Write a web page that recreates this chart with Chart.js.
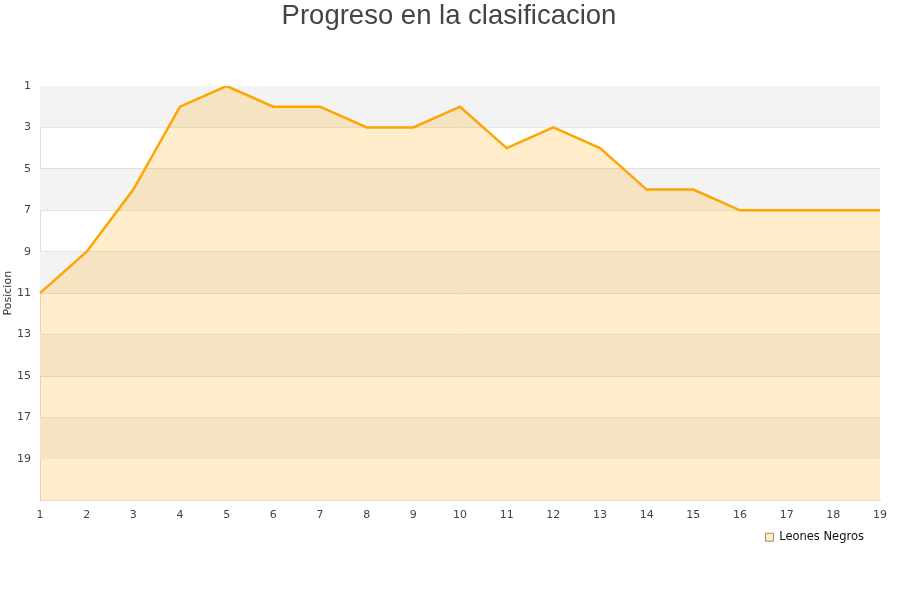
<!DOCTYPE html>
<html>
<head>
<meta charset="utf-8">
<script src="https://cdn.jsdelivr.net/npm/chart.js@4"></script>
<style>
  html, body { margin: 0; padding: 0; background: #fff; }
  #wrap { width: 900px; height: 600px; }
</style>
</head>
<body>
<div id="wrap"><canvas id="grafica" width="900" height="600"></canvas></div>
<script>
// Jornadas y posiciones
const jornadas = ["1","2","3","4","5","6","7","8","9","10","11","12","13","14","15","16","17","18","19"];
const posiciones = [11, 9, 6, 2, 1, 2, 2, 3, 3, 2, 4, 3, 4, 6, 6, 7, 7, 7, 7];
const equipo = "Leones Negros";

// franjas grises alternadas detras del area
const franjas = {
  id: "franjas",
  afterLayout(chart) {
    // la leyenda queda un poco a la izquierda del borde
    chart.legend.right -= 14;
  },
  beforeDatasetsDraw(chart) {
    const { ctx, chartArea, scales } = chart;
    const y = scales.y;
    ctx.save();
    ctx.fillStyle = "#f3f3f3";
    for (let v = 1; v < 21; v += 4) {
      const a = y.getPixelForValue(v);
      const b = y.getPixelForValue(Math.min(v + 2, 21));
      ctx.fillRect(chartArea.left, a, chartArea.right - chartArea.left, b - a);
    }
    ctx.restore();
  }
};

new Chart(document.getElementById("grafica").getContext("2d"), {
  type: "line",
  data: {
    labels: jornadas,
    datasets: [{
      label: equipo,
      data: posiciones,
      borderColor: "#ffa500",
      backgroundColor: "rgba(255,165,0,0.2)",
      borderWidth: 2.5,
      fill: { value: 21 },
      pointRadius: 0,
      tension: 0
    }]
  },
  options: {
    responsive: false,
    animation: false,
    layout: { padding: { left: 2, right: 4, top: 0, bottom: 47 } },
    plugins: {
      title: {
        display: true,
        text: "Progreso en la clasificacion",
        color: "#444",
        font: { family: "Liberation Sans", size: 27.5, weight: "normal" },
        padding: { top: 0, bottom: 53 }
      },
      legend: {
        position: "bottom",
        align: "end",
        fullSize: false,
        labels: {
          boxWidth: 8,
          boxHeight: 8,
          padding: 2,
          color: "#111",
          font: { family: "DejaVu Sans", size: 11.5 },
          generateLabels(chart) {
            const items = Chart.defaults.plugins.legend.labels.generateLabels(chart);
            items.forEach((it) => { it.strokeStyle = "#a08a6a"; it.lineWidth = 1; });
            return items;
          }
        }
      },
      tooltip: { enabled: false }
    },
    scales: {
      x: {
        offset: false,
        grid: { display: false, drawTicks: false },
        border: { color: "#ddd" },
        ticks: { color: "#444", font: { family: "DejaVu Sans", size: 11 }, padding: 8, maxRotation: 0 }
      },
      y: {
        reverse: true,
        min: 1,
        max: 21,
        afterFit(s) { s.width = 38; },
        grid: { color: "#dcdcdc", drawTicks: false },
        border: { color: "#ddd" },
        ticks: {
          stepSize: 2,
          color: "#444",
          font: { family: "DejaVu Sans", size: 11 },
          padding: 9,
          callback: (v) => (v === 21 ? "" : v)
        },
        title: {
          display: true,
          text: "Posicion",
          color: "#333",
          font: { family: "DejaVu Sans", size: 11 },
          padding: 0
        }
      },
      // eje vacio a la derecha, solo reserva margen
      derecha: {
        type: "linear",
        position: "right",
        afterFit(s) { s.width = 16; },
        grid: { display: false, drawTicks: false },
        border: { display: false },
        ticks: { display: false }
      }
    }
  },
  plugins: [franjas]
});
</script>
</body>
</html>
